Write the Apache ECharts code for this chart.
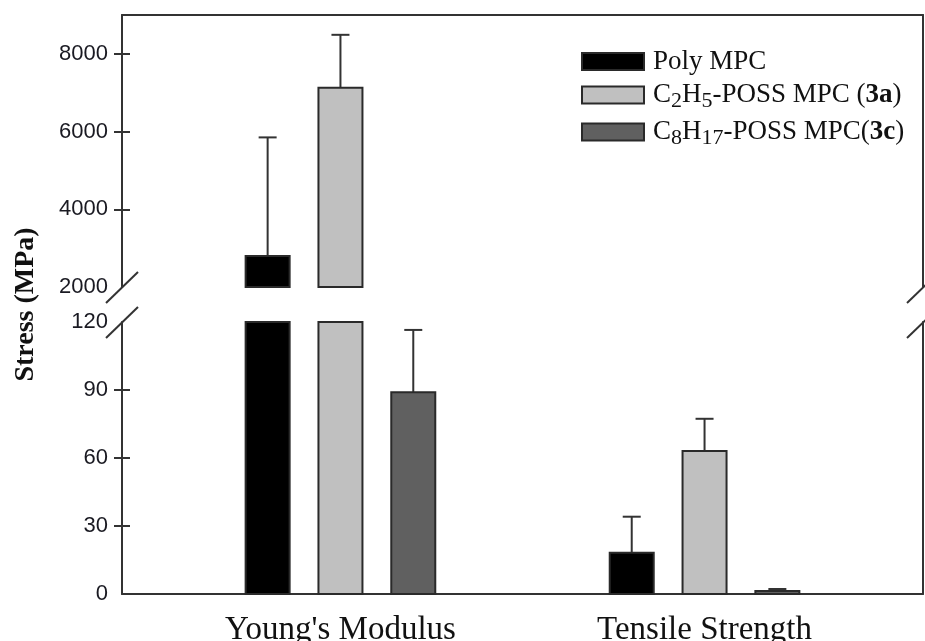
<!DOCTYPE html>
<html><head><meta charset="utf-8">
<script src="https://cdn.jsdelivr.net/npm/echarts@6/dist/echarts.min.js"></script>
<style>html,body{margin:0;padding:0;background:#fff}#c{width:925px;height:641px}</style>
</head><body><div id="c"></div>
<script>
// ---- data ----
const categories = ["Young's Modulus", "Tensile Strength"];
const seriesNames = ['Poly MPC', 'C2H5-POSS MPC (3a)', 'C8H17-POSS MPC(3c)'];
const polyMPC = [2800, 18.2];
const polyMPCErr = [3050, 15.9];
const c2h5POSS = [7130, 63.1];
const c2h5POSSErr = [1360, 14.2];
const c8h17POSS = [89.0, 1.3];
const c8h17POSSErr = [27.5, 0.9];
const upperLabels = [2000, 4000, 6000, 8000];
const upperTicks = [4000, 6000, 8000];
const lowerLabels = [0, 30, 60, 90, 120];
const lowerTicks = [30, 60, 90];

// ---- layout / style ----
const UPPER = [2000, 9000], LOWER = [0, 120];
const groupCenter = [3, 8];
const offsets = [-1, 0, 1];
const fills = ['#000000', '#c0c0c0', '#606060'];
const edge = '#2a2a2a';
const values = [polyMPC, c2h5POSS, c8h17POSS];
const errs = [polyMPCErr, c2h5POSSErr, c8h17POSSErr];
const serif = 'Liberation Serif';
const sans = 'Liberation Sans';

function makeRender(range) {
  return function (params, api) {
    const x = api.value(0), v = api.value(1), e = api.value(2);
    if (v <= range[0]) return null;
    const top = Math.min(v, range[1]);
    const pb = api.coord([x, range[0]]);
    const pt = api.coord([x, top]);
    const w = 44;
    const children = [];
    if (v + e <= range[1] && v <= range[1]) {
      const pe = api.coord([x, v + e]);
      children.push({type: 'line', shape: {x1: pt[0], y1: pt[1], x2: pe[0], y2: pe[1]}, style: {stroke: '#333', lineWidth: 2}});
      children.push({type: 'line', shape: {x1: pe[0] - 9, y1: pe[1], x2: pe[0] + 9, y2: pe[1]}, style: {stroke: '#333', lineWidth: 2}});
    }
    children.push({type: 'rect', shape: {x: pt[0] - w / 2, y: pt[1], width: w, height: pb[1] - pt[1]},
      style: {fill: fills[params.seriesIndex % 3], stroke: edge, lineWidth: 2}});
    return {type: 'group', children};
  };
}

const series = [];
[UPPER, LOWER].forEach((range, gi) => {
  seriesNames.forEach((name, si) => {
    series.push({
      type: 'custom', name,
      xAxisIndex: gi, yAxisIndex: gi * 3,
      renderItem: makeRender(range),
      itemStyle: {color: fills[si], borderColor: edge, borderWidth: 2},
      encode: {x: 0, y: 1},
      data: values[si].map((v, ci) => [groupCenter[ci] + offsets[si], v, errs[si][ci]])
    });
  });
});

const lineStyle = {color: '#333', width: 2};
function yAxes(gi, range, labels, ticks) {
  return [
    {gridIndex: gi, type: 'value', position: 'left', offset: -8, min: range[0], max: range[1],
     axisLine: {show: false}, splitLine: {show: false},
     axisTick: {show: true, inside: false, length: 16, lineStyle, customValues: ticks},
     axisLabel: {customValues: labels, margin: 22, fontFamily: sans, fontSize: 22, color: '#1a1a22',
       formatter: (v) => String(v)}},
    {gridIndex: gi, type: 'value', position: 'left', min: range[0], max: range[1],
     axisLine: {show: true, lineStyle}, splitLine: {show: false}, axisLabel: {show: false}, axisTick: {show: false}},
    {gridIndex: gi, type: 'value', position: 'right', min: range[0], max: range[1],
     axisLine: {show: true, lineStyle}, splitLine: {show: false}, axisLabel: {show: false}, axisTick: {show: false}}
  ];
}

const richLegend = {
  n: {fontFamily: serif, fontSize: 27, color: '#111', lineHeight: 32},
  s: {fontFamily: serif, fontSize: 22, color: '#111', lineHeight: 20, padding: [12, 0, 0, 0]},
  b: {fontFamily: serif, fontSize: 27, color: '#111', fontWeight: 'bold', lineHeight: 32}
};
const legendText = {
  'Poly MPC': '{n|Poly MPC}',
  'C2H5-POSS MPC (3a)': '{n|C}{s|2}{n|H}{s|5}{n|-POSS MPC (}{b|3a}{n|)}',
  'C8H17-POSS MPC(3c)': '{n|C}{s|8}{n|H}{s|17}{n|-POSS MPC(}{b|3c}{n|)}'
};

const chart = echarts.init(document.getElementById('c'), null, {renderer: 'canvas'});
chart.setOption({
  animation: false,
  backgroundColor: '#fff',
  grid: [
    {left: 122, top: 15, width: 801, height: 272, outerBoundsMode: 'none', containLabel: false},
    {left: 122, top: 322, width: 801, height: 272, outerBoundsMode: 'none', containLabel: false}
  ],
  xAxis: [
    {gridIndex: 0, type: 'value', min: 0, max: 11, position: 'top',
     axisLine: {show: true, lineStyle}, axisTick: {show: false}, axisLabel: {show: false}, splitLine: {show: false}},
    {gridIndex: 1, type: 'value', min: 0, max: 11, position: 'bottom',
     axisLine: {show: true, lineStyle}, axisTick: {show: false}, splitLine: {show: false},
     axisLabel: {customValues: groupCenter, margin: 20, fontFamily: serif, fontSize: 33, color: '#111',
       formatter: (v) => { const i = groupCenter.indexOf(v); return i >= 0 ? categories[i] : ''; }}}
  ],
  yAxis: [...yAxes(0, UPPER, upperLabels, upperTicks), ...yAxes(1, LOWER, lowerLabels, lowerTicks)],
  legend: {
    orient: 'vertical', left: 576, top: 43, icon: 'rect',
    itemWidth: 62, itemHeight: 17, itemGap: 3,
    itemStyle: {borderColor: edge, borderWidth: 2},
    data: seriesNames,
    formatter: (name) => legendText[name],
    textStyle: {rich: richLegend, padding: [0, 0, 0, 4]}
  },
  series
});

const pUL = chart.convertToPixel({xAxisIndex: 0, yAxisIndex: 0}, [0, UPPER[0]]);
const pUR = chart.convertToPixel({xAxisIndex: 0, yAxisIndex: 0}, [11, UPPER[0]]);
const pLL = chart.convertToPixel({xAxisIndex: 1, yAxisIndex: 3}, [0, LOWER[1]]);
const pLR = chart.convertToPixel({xAxisIndex: 1, yAxisIndex: 3}, [11, LOWER[1]]);
function brk(p) {
  return {type: 'line', shape: {x1: p[0] - 16, y1: p[1] + 16, x2: p[0] + 16, y2: p[1] - 15},
    style: {stroke: '#333', lineWidth: 2}, silent: true};
}
chart.setOption({
  graphic: [
    brk(pUL), brk(pUR), brk(pLL), brk(pLR),
    {type: 'text', x: 26, y: (pUL[1] + pLL[1]) / 2, rotation: Math.PI / 2,
     style: {text: 'Stress (MPa)', font: 'bold 28px "Liberation Serif"', fill: '#111', textAlign: 'center', textVerticalAlign: 'middle'}}
  ]
});
</script></body></html>
